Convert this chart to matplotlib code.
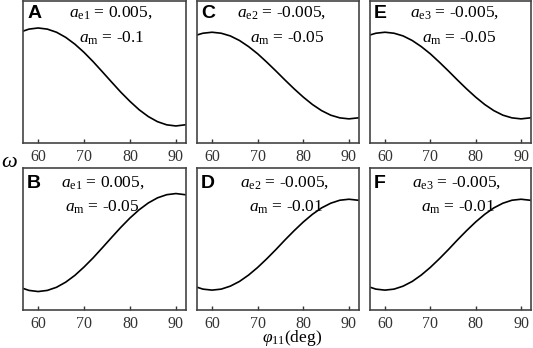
import matplotlib
matplotlib.use("Agg")
import matplotlib.pyplot as plt
import numpy as np

plt.rcParams["mathtext.fontset"] = "custom"
plt.rcParams["mathtext.rm"] = "Liberation Serif"
plt.rcParams["mathtext.it"] = "Liberation Serif:italic"

# phi_11 (deg), sampled every 2 degrees
phi11 = [56, 58, 60, 62, 64, 66, 68, 70, 72, 74, 76, 78, 80, 82, 84, 86, 88, 90, 92]

# omega (arbitrary units)
omega_A = [0.780, 0.802, 0.810, 0.802, 0.780, 0.744, 0.696, 0.638, 0.572, 0.501,
           0.429, 0.358, 0.293, 0.234, 0.186, 0.150, 0.128, 0.120, 0.128]
omega_C = [0.754, 0.773, 0.780, 0.773, 0.754, 0.722, 0.679, 0.628, 0.569, 0.507,
           0.443, 0.381, 0.323, 0.271, 0.228, 0.196, 0.177, 0.170, 0.177]
omega_E = [0.754, 0.773, 0.780, 0.773, 0.754, 0.722, 0.679, 0.628, 0.569, 0.507,
           0.443, 0.381, 0.323, 0.271, 0.228, 0.196, 0.177, 0.170, 0.177]
omega_B = [0.160, 0.138, 0.130, 0.138, 0.160, 0.196, 0.244, 0.303, 0.368, 0.439,
           0.511, 0.582, 0.648, 0.706, 0.754, 0.790, 0.812, 0.820, 0.812]
omega_D = [0.168, 0.147, 0.140, 0.147, 0.168, 0.201, 0.246, 0.300, 0.361, 0.426,
           0.494, 0.559, 0.620, 0.674, 0.719, 0.752, 0.773, 0.780, 0.773]
omega_F = [0.168, 0.147, 0.140, 0.147, 0.168, 0.201, 0.246, 0.300, 0.361, 0.426,
           0.494, 0.559, 0.620, 0.674, 0.719, 0.752, 0.773, 0.780, 0.773]

letters = ["A", "C", "E", "B", "D", "F"]
series = [omega_A, omega_C, omega_E, omega_B, omega_D, omega_F]
line1 = [r"$a_{\mathrm{e1}}$ = 0.005,", r"$a_{\mathrm{e2}}$ = -0.005,", r"$a_{\mathrm{e3}}$ = -0.005,",
         r"$a_{\mathrm{e1}}$ = 0.005,", r"$a_{\mathrm{e2}}$ = -0.005,", r"$a_{\mathrm{e3}}$ = -0.005,"]
line2 = [r"$a_{\mathrm{m}}$ = -0.1", r"$a_{\mathrm{m}}$ = -0.05", r"$a_{\mathrm{m}}$ = -0.05",
         r"$a_{\mathrm{m}}$ = -0.05", r"$a_{\mathrm{m}}$ = -0.01", r"$a_{\mathrm{m}}$ = -0.01"]
xticks = [60, 70, 80, 90]

W, H = 533, 348
fig = plt.figure(figsize=(W / 100, H / 100), dpi=100)

# pixel boxes: (left, right) per column, (top, bottom) per row
cols = [(23, 186), (197, 359), (370, 531)]
rows = [(1, 143), (168, 310)]
serif = "Liberation Serif"

# text placement in axes fractions, per panel
line1_x = [0.535, 0.525, 0.525, 0.49, 0.54, 0.54]
line2_x = [0.545, 0.556, 0.556, 0.485, 0.55, 0.55]
row_base = [(0.88, 0.887, 0.704), (0.86, 0.868, 0.69)]

for i, (letter, y) in enumerate(zip(letters, series)):
    r, c = divmod(i, 3)
    l, rr = cols[c]
    t, b = rows[r]
    ax = fig.add_axes([l / W, 1 - b / H, (rr - l) / W, (b - t) / H])
    ax.plot(phi11, y, color="black", linewidth=1.2)
    ax.set_xlim(56.7, 92.2)
    ax.set_ylim(0, 1)
    ax.set_yticks([])
    ax.set_xticks(xticks)
    ax.tick_params(axis="x", direction="in", length=3, width=1, pad=4.5,
                   labelsize=11.5, colors="#333333")
    for lab in ax.get_xticklabels():
        lab.set_fontfamily(serif)
    for s in ax.spines.values():
        s.set_linewidth(1.2)
        s.set_color("#444444")

    yl, y1, y2 = row_base[r]
    ax.text(0.025, yl, letter, transform=ax.transAxes, fontsize=14,
            fontweight="bold", fontfamily="Liberation Sans", va="baseline", ha="left")
    ax.text(line1_x[i], y1, line1[i], transform=ax.transAxes, fontsize=12.5,
            fontfamily=serif, va="baseline", ha="center")
    ax.text(line2_x[i], y2, line2[i], transform=ax.transAxes, fontsize=12.5,
            fontfamily=serif, va="baseline", ha="center")

fig.text(9 / W, 1 - 161 / H, r"$\omega$", fontsize=16, ha="center", va="center")
fig.text(292 / W, 1 - 338 / H, r"$\varphi_{11}$(deg)", fontsize=12.5,
         fontfamily=serif, ha="center", va="center")

fig.savefig("out.png", dpi=100)
